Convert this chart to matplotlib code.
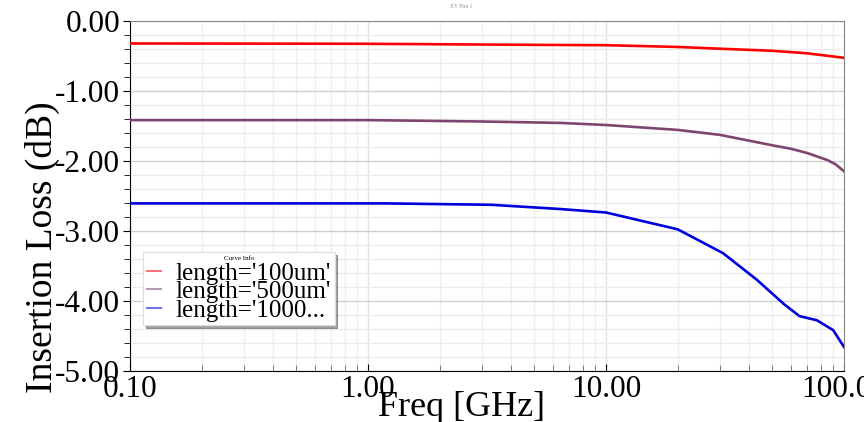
import numpy as np
import matplotlib.pyplot as plt
from matplotlib.ticker import FixedLocator, NullFormatter, LogLocator

plt.rcParams['font.family'] = ['Liberation Serif', 'DejaVu Serif']

# frequency points [GHz] and insertion loss [dB]
freq_100 = [0.1, 1.0, 1.7, 5.0, 10.0, 20.0, 30.0, 50.0, 70.0, 100.0]
loss_100 = [-0.325, -0.33, -0.335, -0.345, -0.35, -0.375, -0.40, -0.43, -0.466, -0.53]

freq_500 = [0.1, 1.0, 3.0, 6.4, 10.0, 20.0, 30.0, 50.0, 60.0, 70.0, 85.0, 92.0, 100.0]
loss_500 = [-1.42, -1.42, -1.44, -1.46, -1.49, -1.56, -1.63, -1.78, -1.83, -1.89, -1.99, -2.05, -2.15]

freq_1000 = [0.1, 1.2, 3.3, 6.4, 10.0, 20.0, 31.0, 43.0, 56.0, 65.0, 77.0, 90.0, 100.0]
loss_1000 = [-2.61, -2.61, -2.63, -2.69, -2.74, -2.98, -3.32, -3.70, -4.05, -4.22, -4.28, -4.42, -4.66]

labels = ["length='100um'", "length='500um'", "length='1000..."]
colors = ['#ff0000', '#7f4570', '#0000dd']

xticks = [0.1, 1.0, 10.0, 100.0]
xticklabels = ['0.10', '1.00', '10.00', '100.00']
yticks = [0, -1, -2, -3, -4, -5]
yticklabels = ['0.00', '-1.00', '-2.00', '-3.00', '-4.00', '-5.00']

fig = plt.figure(figsize=(8.64, 4.22), dpi=100)
ax = fig.add_axes([130/864, 1 - 370.7/422, (844 - 130)/864, (370.7 - 20.7)/422])

for f, l, c, lab in zip([freq_100, freq_500, freq_1000],
                        [loss_100, loss_500, loss_1000], colors, labels):
    ax.plot(f, l, color=c, lw=1.9, label=lab, zorder=3)

ax.set_xscale('log')
ax.set_xlim(0.1, 100)
ax.set_ylim(-5, 0)

ax.xaxis.set_major_locator(FixedLocator(xticks))
ax.set_xticklabels(xticklabels)
ax.xaxis.set_minor_locator(LogLocator(base=10, subs=np.arange(2, 10)))
ax.xaxis.set_minor_formatter(NullFormatter())
ax.yaxis.set_major_locator(FixedLocator(yticks))
ax.set_yticklabels(yticklabels)
ax.yaxis.set_minor_locator(FixedLocator(np.arange(-5, 0.01, 0.2)))

ax.tick_params(axis='both', which='major', labelsize=22.5, colors='black')
ax.tick_params(axis='y', which='major', direction='out', length=5, pad=2)
ax.tick_params(axis='y', which='minor', direction='out', length=4)
ax.tick_params(axis='x', which='major', direction='in', length=5, pad=3)
ax.tick_params(axis='x', which='minor', direction='in', length=4, color='#666666')

ax.grid(True, which='major', axis='y', color='#cfcfcf', lw=1.0)
ax.grid(True, which='minor', axis='y', color='#ececec', lw=1.0)
ax.grid(True, which='major', axis='x', color='#e3e3e3', lw=1.0)
ax.grid(True, which='minor', axis='x', color='#efefef', lw=1.0)
ax.set_axisbelow(True)

for side in ['top', 'right']:
    ax.spines[side].set_color('#888888')
for side in ['left', 'bottom']:
    ax.spines[side].set_color('black')

ax.set_ylabel('Insertion Loss (dB)', fontsize=27)
ax.yaxis.set_label_coords((60 - 130) / 714, (370.7 - 247) / 350)
ax.set_xlabel('Freq [GHz]', fontsize=26)
ax.xaxis.set_label_coords((461 - 130) / 714, (370.7 - 391) / 350)

fig.text(461/864, 1 - 6/422, 'XY Plot 1', fontsize=4, color='#888888',
         ha='center', va='center')

leg = ax.legend(loc='upper left', bbox_to_anchor=(143/864, 1 - 252/422),
                bbox_transform=fig.transFigure, fontsize=18,
                title='Curve Info', title_fontsize=5, frameon=True,
                fancybox=False, shadow=True, labelspacing=-0.16,
                handlelength=0.55, handletextpad=0.6, borderpad=0.15,
                borderaxespad=0, framealpha=1)
leg._legend_box.sep = 1  # keep the small title clear of the first row
leg.get_frame().set_edgecolor('#dddddd')
leg.get_frame().set_linewidth(0.8)
for h in leg.get_lines():
    h.set_alpha(0.55)
    h.set_linewidth(1.5)

fig.savefig('out.png', dpi=100)
